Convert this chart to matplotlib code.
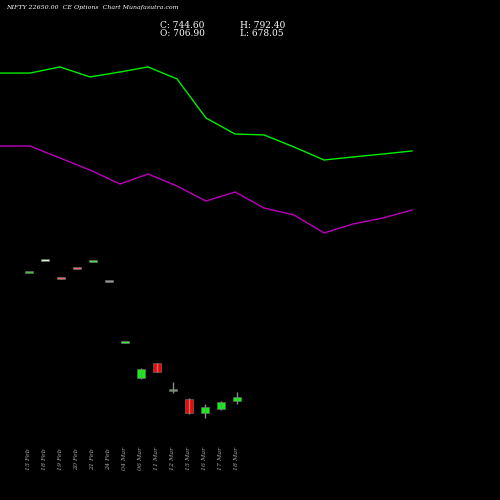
import matplotlib.pyplot as plt

dates = ["13 Feb", "18 Feb", "19 Feb", "20 Feb", "21 Feb", "24 Feb", "04 Mar",
         "06 Mar", "11 Mar", "12 Mar", "13 Mar", "16 Mar", "17 Mar", "18 Mar"]
opens = [1925, 2034, 1872, 1962, 2030, 1842, 1260, 925, 1067, 802, 726, 592, 630, 706.90]
closes = [1929, 2037, 1868, 1958, 2042, 1840, 1264, 1010, 982, 800, 592, 650, 697, 744.60]
highs = [1930, 2038, 1873, 1963, 2043, 1844, 1266, 1020, 1070, 887, 735, 678, 707, 792.40]
lows = [1924, 2033, 1867, 1957, 2029, 1838, 1258, 915, 978, 783, 583, 545, 621, 678.05]
colors = ["#33cc33", "#ccffcc", "#ff6666", "#ff6666", "#33ff33", "#999999", "#33ff33",
          "#00ff00", "#ff0000", "#669966", "#ff0000", "#00ff00", "#00ff00", "#00ff00"]

line_x = [-1.81, 0.06, 1.94, 3.81, 5.69, 7.44, 9.25, 11.06, 12.88, 14.69, 16.56, 18.44, 20.25, 22.13, 23.94]
green_line = [3822, 3822, 3880, 3785, 3832, 3880, 3766, 3395, 3243, 3234, 3120, 2996, 3025, 3053, 3082]
magenta_line = [3129, 3129, 3015, 2901, 2768, 2863, 2749, 2606, 2692, 2540, 2474, 2303, 2388, 2445, 2521]

fig = plt.figure(figsize=(5, 5), dpi=100, facecolor="black")
ax = fig.add_axes([0, 0, 1, 1], facecolor="black")

ax.plot(line_x, green_line, color="#00ee00", lw=1)
ax.plot(line_x, magenta_line, color="#bb00bb", lw=1)

for i in range(len(dates)):
    ax.vlines(i, lows[i], highs[i], color="#888888", lw=1)
    bottom = min(opens[i], closes[i])
    h = max(abs(closes[i] - opens[i]), 18)
    ax.bar(i, h, bottom=bottom, width=0.55, color=colors[i], edgecolor="#666666", lw=0.5)
    ax.text(i, 51, dates[i], rotation=90, color="#aaaaaa", fontsize=4.5,
            family="DejaVu Serif", style="italic", ha="center", va="bottom")

ax.set_xlim(-29 / 16, 471 / 16)
ax.set_ylim(-234, 4516)
ax.axis("off")

fig.text(0.012, 0.986, "NIFTY 22650.00  CE Options  Chart Munafasutra.com", color="white",
         fontsize=4.5, family="DejaVu Serif", style="italic", va="center")
fig.text(0.32, 0.95, "C: 744.60", color="white", fontsize=6.5, family="DejaVu Serif", va="center")
fig.text(0.32, 0.934, "O: 706.90", color="white", fontsize=6.5, family="DejaVu Serif", va="center")
fig.text(0.48, 0.95, "H: 792.40", color="white", fontsize=6.5, family="DejaVu Serif", va="center")
fig.text(0.48, 0.934, "L: 678.05", color="white", fontsize=6.5, family="DejaVu Serif", va="center")

fig.savefig("out.png", dpi=100, facecolor="black")
